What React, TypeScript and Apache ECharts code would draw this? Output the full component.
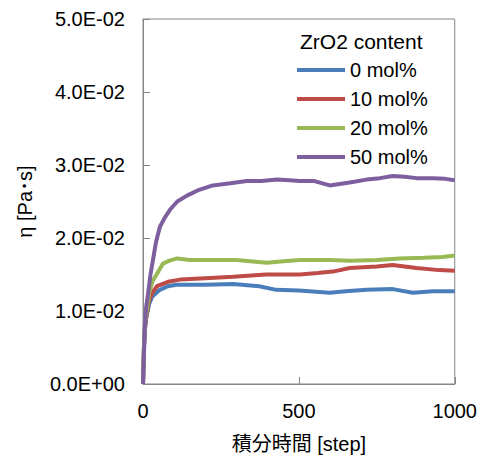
import React, { useEffect, useRef } from "react";
import * as echarts from "echarts";

const seriesNames = ["0 mol%", "10 mol%", "20 mol%", "50 mol%"];
const seriesColors = ["#4a7ebb", "#be4b48", "#98b954", "#7d5fa0"];

const blueSteps = [0, 3, 6, 10, 15, 20, 30, 54, 80, 107, 200, 289, 373, 427, 500, 599, 650, 717, 801, 866, 930, 1000];
const blueValues = [0, 0.005, 0.0075, 0.009, 0.01, 0.011, 0.012, 0.0129, 0.0134, 0.0136, 0.0136, 0.0137, 0.0134, 0.0129, 0.0128, 0.0125, 0.0127, 0.0129, 0.013, 0.0125, 0.0127, 0.0127];

const redSteps = [0, 3, 6, 10, 15, 20, 30, 45, 80, 119, 200, 289, 395, 503, 560, 609, 663, 750, 801, 877, 950, 1000];
const redValues = [0, 0.005, 0.0075, 0.009, 0.0105, 0.0115, 0.0125, 0.0134, 0.014, 0.0143, 0.0145, 0.0147, 0.015, 0.015, 0.0152, 0.0154, 0.0159, 0.0161, 0.0163, 0.0159, 0.0156, 0.0155];

const greenSteps = [0, 3, 6, 10, 15, 20, 30, 45, 64, 85, 109, 150, 200, 300, 397, 450, 503, 600, 663, 750, 823, 900, 960, 1000];
const greenValues = [0, 0.005, 0.008, 0.0095, 0.011, 0.0125, 0.014, 0.0151, 0.0165, 0.0169, 0.0172, 0.017, 0.017, 0.017, 0.0166, 0.0168, 0.017, 0.017, 0.0169, 0.017, 0.0172, 0.0173, 0.0174, 0.0176];

const purpleSteps = [0, 3, 6, 10, 16, 24, 32, 42, 54, 70, 87, 110, 141, 180, 224, 280, 333, 380, 430, 470, 503, 550, 599, 630, 663, 717, 760, 801, 840, 877, 930, 970, 1000];
const purpleValues = [0, 0.004, 0.008, 0.0105, 0.0123, 0.015, 0.017, 0.0195, 0.0215, 0.0228, 0.0239, 0.025, 0.0258, 0.0266, 0.0272, 0.0275, 0.0278, 0.0278, 0.028, 0.0279, 0.0278, 0.0278, 0.0272, 0.0274, 0.0276, 0.028, 0.0282, 0.0285, 0.0284, 0.0282, 0.0282, 0.0281, 0.0279];

const yTickValues = [0, 0.01, 0.02, 0.03, 0.04, 0.05];
const yTickLabels = ["0.0E+00", "1.0E-02", "2.0E-02", "3.0E-02", "4.0E-02", "5.0E-02"];
const xTickValues = [0, 500, 1000];
const xTickLabels = ["0", "500", "1000"];

const legendTitle = "ZrO2 content";
const xAxisName = "積分時間 [step]";
const yAxisName = "η [Pa･s]";

const FONT = "'Liberation Sans', Arial, 'Noto Sans CJK JP', sans-serif";

function zip(xs: number[], ys: number[]) {
  return xs.map((x, i) => [x, ys[i]]);
}

export default function App() {
  const ref = useRef<HTMLDivElement>(null);
  useEffect(() => {
    if (!ref.current) return;
    const chart = echarts.init(ref.current, null, { renderer: "svg" });
    const datas = [
      zip(blueSteps, blueValues),
      zip(redSteps, redValues),
      zip(greenSteps, greenValues),
      zip(purpleSteps, purpleValues),
    ];
    chart.setOption({
      animation: false,
      textStyle: { fontFamily: FONT },
      grid: {
        left: 143,
        top: 19,
        width: 312,
        height: 370,
        show: true,
        borderColor: "#868686",
        borderWidth: 1,
        backgroundColor: "transparent",
      },
      graphic: [
        {
          type: "text",
          left: 300,
          top: 31,
          style: { text: legendTitle, fontSize: 21, fontFamily: FONT, fill: "#000" },
        },
      ],
      legend: {
        orient: "vertical",
        left: 292,
        top: 55,
        itemWidth: 48,
        itemHeight: 14,
        itemGap: 9,
        icon: "path://M0,0 L48,0 L48,4 L0,4 Z",
        data: seriesNames,
        textStyle: { fontSize: 20, fontFamily: FONT, color: "#000", lineHeight: 20 },
      },
      xAxis: {
        type: "value",
        min: 0,
        max: 1000,
        interval: 500,
        name: xAxisName,
        nameLocation: "middle",
        nameGap: 50,
        nameTextStyle: { fontSize: 20, fontFamily: FONT, color: "#000" },
        axisLine: { show: true, lineStyle: { color: "#868686" } },
        axisTick: { show: true, inside: true, length: 7, lineStyle: { color: "#868686" } },
        axisLabel: {
          fontSize: 20,
          color: "#000",
          margin: 17,
          fontFamily: FONT,
          formatter: (v: number) => {
            const i = xTickValues.indexOf(v);
            return i >= 0 ? xTickLabels[i] : "";
          },
        },
        splitLine: { show: false },
      },
      yAxis: {
        type: "value",
        min: 0,
        max: 0.05,
        interval: 0.01,
        name: yAxisName,
        nameLocation: "middle",
        nameGap: 108,
        nameTextStyle: { fontSize: 20, fontFamily: FONT, color: "#000" },
        axisLine: { show: true, lineStyle: { color: "#868686" } },
        axisTick: { show: true, inside: true, length: 7, lineStyle: { color: "#868686" } },
        axisLabel: {
          fontSize: 20,
          color: "#000",
          margin: 18,
          fontFamily: FONT,
          formatter: (v: number) => {
            const i = yTickValues.findIndex((t) => Math.abs(t - v) < 1e-9);
            return i >= 0 ? yTickLabels[i] : "";
          },
        },
        splitLine: { show: false },
      },
      series: seriesNames.map((name, i) => ({
        name,
        type: "line",
        data: datas[i],
        showSymbol: false,
        symbol: "none",
        color: seriesColors[i],
        lineStyle: { width: 4, color: seriesColors[i] },
        itemStyle: { color: seriesColors[i] },
      })),
    });
    return () => chart.dispose();
  }, []);
  return <div ref={ref} style={{ width: 480, height: 459, position: "absolute", left: 0, top: 0 }} />;
}
